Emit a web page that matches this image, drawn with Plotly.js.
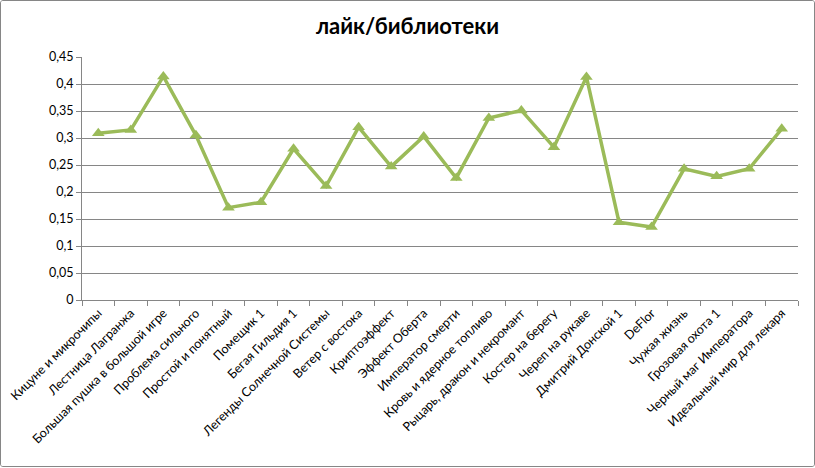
<!DOCTYPE html>
<html>
<head>
<meta charset="utf-8">
<script src="https://cdn.plot.ly/plotly-3.0.1.min.js"></script>
<style>
html,body{margin:0;padding:0;background:#fff;}
#wrap{position:absolute;left:0;top:0;width:813px;height:465px;border:1px solid #868686;border-radius:3px;overflow:hidden;}
#chart{width:813px;height:465px;}
</style>
</head>
<body>
<div id="wrap"><div id="chart"></div></div>
<script>
const categories = [
  "Кицуне и микрочипы", "Лестница Лагранжа", "Большая пушка в большой игре",
  "Проблема сильного", "Простой и понятный", "Помещик 1", "Бегая Гильдия 1",
  "Легенды Солнечной Системы", "Ветер с востока", "Криптоэффект", "Эффект Оберта",
  "Император смерти", "Кровь и ядерное топливо", "Рыцарь, дракон и некромант",
  "Костер на берегу", "Череп на рукаве", "Дмитрий Донской 1", "DeFlor",
  "Чужая жизнь", "Грозовая охота 1", "Черный маг Императора", "Идеальный мир для лекаря"
];
const values = [
  0.309, 0.315, 0.414, 0.305, 0.171, 0.181, 0.280, 0.211, 0.320, 0.247, 0.303,
  0.226, 0.337, 0.351, 0.283, 0.413, 0.144, 0.135, 0.243, 0.229, 0.243, 0.317
];
const yTicks = [0, 0.05, 0.1, 0.15, 0.2, 0.25, 0.3, 0.35, 0.4, 0.45];

const trace = {
  x: categories,
  y: values,
  type: 'scatter',
  mode: 'lines+markers',
  line: {color: '#9BBB59', width: 3.5},
  marker: {symbol: 'triangle-up', size: 11, color: '#9BBB59'},
  hoverinfo: 'x+y'
};

const layout = {
  width: 813, height: 465,
  separators: ', ',
  paper_bgcolor: '#fff', plot_bgcolor: '#fff',
  margin: {l: 81, r: 16, t: 56, b: 166},
  showlegend: false,
  title: {text: 'лайк/библиотеки', font: {family: 'Lato, Carlito, sans-serif', size: 22, color: '#000', weight: 'bold'}, x: 0.5, xanchor: 'center', y: 0.945, yanchor: 'middle'},
  font: {family: 'Lato, Carlito, sans-serif', size: 12.5, color: '#000'},
  xaxis: {
    type: 'category',
    range: [-0.5, categories.length - 0.5],
    tickangle: -45,
    tickson: 'boundaries',
    ticks: 'outside', ticklen: 5, tickcolor: '#868686', tickwidth: 1,
    showline: true, linecolor: '#868686', linewidth: 1,
    showgrid: false, zeroline: false,
    tickfont: {family: 'Lato, Carlito, sans-serif', size: 12.5, color: '#000'}
  },
  yaxis: {
    range: [0, 0.45],
    tickvals: yTicks,
    ticks: 'outside', ticklen: 5, tickcolor: '#868686', tickwidth: 1,
    showline: true, linecolor: '#868686', linewidth: 1,
    showgrid: true, gridcolor: '#868686', gridwidth: 1,
    zeroline: false,
    tickfont: {family: 'Lato, Carlito, sans-serif', size: 12.5, color: '#000'}
  }
};

Plotly.newPlot('chart', [trace], layout, {displayModeBar: false, staticPlot: true});
</script>
</body>
</html>
